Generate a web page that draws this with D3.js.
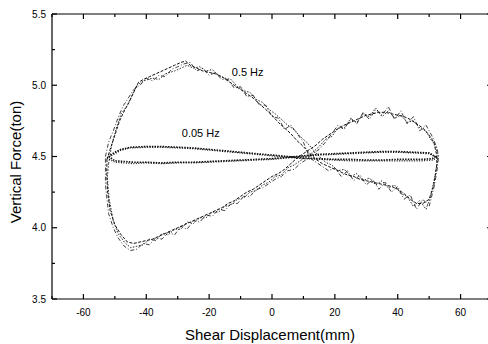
<!DOCTYPE html>
<html><head><meta charset="utf-8">
<script src="https://cdn.jsdelivr.net/npm/d3@7"></script>
<style>body{margin:0;background:#fff}svg{display:block}</style>
</head><body>
<svg id="c" width="488" height="344"></svg>
<script>
const xTicks = [-60,-40,-20,0,20,40,60];
const yTicks = [3.5,4.0,4.5,5.0,5.5];
const seriesLabels = ["0.5 Hz","0.05 Hz"];

// 0.5 Hz, three recorded cycles [displacement mm, force ton]
const hz05_cycle1 = [[-52.5,4.48],[-51.5,4.55],[-50,4.65],[-48.5,4.75],[-47,4.82],[-45.5,4.88],[-44,4.95],[-42.5,5.02],[-41,5.04],[-39,5.06],[-37,5.08],[-35,5.1],[-33,5.12],[-31,5.14],[-29,5.16],[-27.5,5.17],[-26,5.14],[-24,5.12],[-22,5.1],[-20,5.09],[-18,5.08],[-16,5.06],[-14,5.03],[-12,5.0],[-10,4.97],[-8,4.94],[-6,4.91],[-4,4.87],[-2,4.83],[0,4.79],[2,4.74],[4,4.70],[6,4.66],[8,4.61],[10,4.57],[12,4.52],[14,4.48],[16,4.45],[18,4.43],[20,4.41],[22,4.39],[24,4.37],[26,4.36],[28,4.34],[30,4.33],[32,4.32],[34,4.31],[36,4.30],[38,4.29],[40,4.27],[42,4.24],[44,4.2],[46,4.17],[48,4.17],[50,4.2],[51.5,4.3],[52.5,4.45],
[52.3,4.52],[51.5,4.6],[50,4.65],[48,4.7],[46,4.73],[44,4.76],[42,4.78],[40,4.79],[38,4.8],[36,4.81],[34,4.81],[32,4.8],[30,4.79],[28,4.77],[26,4.75],[24,4.73],[22,4.71],[20,4.68],[18,4.65],[16,4.62],[14,4.58],[12,4.55],[10,4.52],[8,4.49],[6,4.45],[4,4.41],[2,4.38],[0,4.36],[-2,4.33],[-4,4.30],[-6,4.27],[-8,4.25],[-10,4.22],[-12,4.19],[-14,4.17],[-16,4.14],[-18,4.12],[-20,4.10],[-22,4.08],[-24,4.06],[-26,4.04],[-28,4.02],[-30,4.0],[-32,3.98],[-34,3.96],[-36,3.94],[-38,3.92],[-40,3.91],[-42,3.90],[-44,3.89],[-46,3.9],[-48,3.95],[-50,4.02],[-51.5,4.12],[-52.3,4.25],[-52.6,4.38],[-52.5,4.48]];

const hz05_cycle2 = [[-52,4.45],[-51,4.58],[-49.5,4.7],[-48,4.8],[-46,4.86],[-44.5,4.93],[-43,5.0],[-41,5.03],[-38,5.05],[-36,5.04],[-34,5.08],[-31,5.1],[-29,5.12],[-27,5.14],[-25,5.12],[-23,5.13],[-21,5.1],[-19,5.11],[-17,5.07],[-15,5.05],[-13,5.04],[-11,4.99],[-9,4.96],[-7,4.95],[-5,4.9],[-3,4.88],[-1,4.83],[1,4.80],[3,4.76],[5,4.72],[7,4.69],[9,4.64],[11,4.6],[13,4.55],[15,4.5],[17,4.46],[19,4.44],[21,4.4],[23,4.41],[25,4.36],[27,4.38],[29,4.33],[31,4.35],[33,4.30],[35,4.33],[37,4.28],[39,4.3],[41,4.24],[43,4.22],[45,4.15],[47,4.19],[49,4.13],[50.5,4.22],[52,4.38],[52.8,4.5],
[52,4.58],[50.5,4.62],[49,4.68],[47,4.7],[45,4.75],[43,4.74],[41,4.79],[39,4.77],[37,4.82],[35,4.78],[33,4.84],[31,4.78],[29,4.8],[27,4.74],[25,4.76],[23,4.7],[21,4.7],[19,4.64],[17,4.62],[15,4.57],[13,4.53],[11,4.5],[9,4.47],[7,4.44],[5,4.42],[3,4.37],[1,4.36],[-1,4.32],[-3,4.3],[-5,4.26],[-7,4.25],[-9,4.21],[-11,4.2],[-13,4.16],[-15,4.15],[-17,4.11],[-19,4.11],[-21,4.07],[-23,4.07],[-25,4.03],[-27,4.04],[-29,3.99],[-31,3.99],[-33,3.95],[-35,3.96],[-37,3.91],[-39,3.92],[-41,3.88],[-43,3.87],[-45,3.86],[-47,3.9],[-49,3.96],[-50.5,4.05],[-51.8,4.2],[-52.4,4.35],[-52,4.45]];

const hz05_cycle3 = [[-53,4.5],[-52,4.6],[-50.5,4.68],[-49,4.77],[-47.5,4.85],[-46,4.9],[-44,4.97],[-42,5.0],[-40,5.05],[-38,5.03],[-36,5.07],[-34,5.06],[-32,5.11],[-30,5.13],[-28,5.15],[-26,5.16],[-24,5.1],[-22,5.12],[-20,5.07],[-18,5.09],[-16,5.04],[-14,5.04],[-12,4.98],[-10,4.99],[-8,4.92],[-6,4.93],[-4,4.86],[-2,4.86],[0,4.78],[2,4.77],[4,4.69],[6,4.72],[8,4.66],[10,4.6],[12,4.49],[14,4.46],[16,4.43],[18,4.4],[20,4.42],[22,4.36],[24,4.4],[26,4.33],[28,4.37],[30,4.3],[32,4.34],[34,4.27],[36,4.32],[38,4.25],[40,4.29],[42,4.2],[44,4.23],[46,4.13],[48,4.2],[50,4.15],[51.5,4.28],[52.5,4.4],[53,4.5],
[52.5,4.56],[51,4.64],[49,4.72],[47,4.68],[45,4.78],[43,4.73],[41,4.82],[39,4.76],[37,4.85],[35,4.79],[33,4.83],[31,4.76],[29,4.81],[27,4.73],[25,4.77],[23,4.69],[21,4.72],[19,4.66],[17,4.6],[15,4.55],[13,4.52],[11,4.48],[9,4.45],[7,4.41],[5,4.4],[3,4.36],[1,4.34],[-1,4.31],[-3,4.28],[-5,4.27],[-7,4.22],[-9,4.22],[-11,4.17],[-13,4.17],[-15,4.12],[-17,4.13],[-19,4.08],[-21,4.09],[-23,4.04],[-25,4.05],[-27,3.99],[-29,4.01],[-31,3.95],[-33,3.97],[-35,3.92],[-37,3.93],[-39,3.88],[-41,3.89],[-43,3.85],[-45,3.84],[-47,3.87],[-49,3.93],[-50.5,4.0],[-52,4.1],[-53,4.3],[-53,4.5]];

// 0.05 Hz, two recorded cycles
const hz005_cycle1 = [[-52,4.5],[-50,4.47],[-47,4.465],[-44,4.46],[-40,4.46],[-35,4.455],[-30,4.46],[-25,4.46],[-20,4.465],[-15,4.47],[-10,4.475],[-5,4.48],[0,4.485],[5,4.495],[10,4.505],[15,4.515],[20,4.52],[25,4.525],[30,4.53],[35,4.535],[40,4.535],[45,4.53],[50,4.525],[52,4.5],[51,4.485],[48,4.48],[44,4.48],[40,4.48],[35,4.475],[30,4.475],[25,4.48],[20,4.48],[15,4.485],[10,4.49],[5,4.5],[0,4.51],[-5,4.52],[-10,4.53],[-15,4.54],[-20,4.55],[-25,4.56],[-30,4.565],[-35,4.57],[-40,4.57],[-45,4.565],[-48,4.55],[-50,4.53],[-52,4.5]];
const hz005_cycle2 = [[-52.5,4.49],[-50,4.46],[-47,4.455],[-44,4.45],[-40,4.455],[-35,4.45],[-30,4.455],[-25,4.455],[-20,4.46],[-15,4.465],[-10,4.47],[-5,4.475],[0,4.48],[5,4.49],[10,4.5],[15,4.51],[20,4.515],[25,4.52],[30,4.525],[35,4.53],[40,4.53],[45,4.525],[50,4.52],[52.5,4.49],[51,4.475],[48,4.47],[44,4.47],[40,4.47],[35,4.47],[30,4.47],[25,4.47],[20,4.475],[15,4.48],[10,4.485],[5,4.495],[0,4.505],[-5,4.515],[-10,4.525],[-15,4.535],[-20,4.545],[-25,4.555],[-30,4.56],[-35,4.565],[-40,4.565],[-45,4.56],[-48,4.545],[-50,4.52],[-52.5,4.49]];

const svg = d3.select("#c");
const x = d3.scaleLinear().domain([-70,70]).range([52,492]);
const y = d3.scaleLinear().domain([3.5,5.5]).range([299,14]);
const font = "'Liberation Sans', Arial, sans-serif";

const g = svg.append("g");
const line = d3.line().x(d=>x(d[0])).y(d=>y(d[1])).curve(d3.curveLinear);

const curves = [
  {d: hz05_cycle1, dash: "3,1.5", w: 1},
  {d: hz05_cycle2, dash: "1.5,1.5", w: 0.9},
  {d: hz05_cycle3, dash: "4,2,1,2", w: 0.8},
  {d: hz005_cycle1, dash: "1.5,1.2", w: 1.6},
  {d: hz005_cycle2, dash: "1,1.5", w: 1.3}
];
curves.forEach(c => {
  g.append("path").attr("d", line(c.d)).attr("fill","none")
   .attr("stroke","#111").attr("stroke-width", c.w).attr("stroke-dasharray", c.dash);
});

// axes
const minorX = d3.range(-70,71,10);
const minorY = d3.range(3.5,5.51,0.25);
const ax = svg.append("g").attr("stroke","#000").attr("stroke-width",1.2);
ax.append("line").attr("x1",x(-70)).attr("x2",x(70)).attr("y1",y(3.5)).attr("y2",y(3.5));
ax.append("line").attr("x1",x(-70)).attr("x2",x(70)).attr("y1",y(5.5)).attr("y2",y(5.5));
ax.append("line").attr("x1",x(-70)).attr("x2",x(-70)).attr("y1",y(3.5)).attr("y2",y(5.5));
ax.append("line").attr("x1",x(70)).attr("x2",x(70)).attr("y1",y(3.5)).attr("y2",y(5.5));
minorX.forEach(v => {
  const L = xTicks.includes(v) ? 5 : 3;
  ax.append("line").attr("x1",x(v)).attr("x2",x(v)).attr("y1",y(3.5)).attr("y2",y(3.5)-L);
  ax.append("line").attr("x1",x(v)).attr("x2",x(v)).attr("y1",y(5.5)).attr("y2",y(5.5)+L);
});
minorY.forEach(v => {
  const L = yTicks.some(t=>Math.abs(t-v)<1e-6) ? 5 : 3;
  ax.append("line").attr("x1",x(-70)).attr("x2",x(-70)+L).attr("y1",y(v)).attr("y2",y(v));
  ax.append("line").attr("x1",x(70)).attr("x2",x(70)-L).attr("y1",y(v)).attr("y2",y(v));
});

svg.append("g").selectAll("text").data(xTicks).join("text")
  .attr("x",d=>x(d)).attr("y",316).attr("text-anchor","middle")
  .attr("font-family",font).attr("font-size",10).text(d=>d);
svg.append("g").selectAll("text").data(yTicks).join("text")
  .attr("x",46).attr("y",d=>y(d)+3.5).attr("text-anchor","end")
  .attr("font-family",font).attr("font-size",10).text(d=>d.toFixed(1));

svg.append("text").attr("x",270).attr("y",340).attr("text-anchor","middle")
  .attr("font-family",font).attr("font-size",15).text("Shear Displacement(mm)");
svg.append("text").attr("transform","translate(21,162) rotate(-90)").attr("text-anchor","middle")
  .attr("font-family",font).attr("font-size",15).text("Vertical Force(ton)");

svg.append("text").attr("x",x(-12.8)).attr("y",y(5.068)).attr("font-family",font).attr("font-size",11).text(seriesLabels[0]);
svg.append("text").attr("x",x(-28.7)).attr("y",y(4.639)).attr("font-family",font).attr("font-size",11).text(seriesLabels[1]);
</script>
</body></html>
